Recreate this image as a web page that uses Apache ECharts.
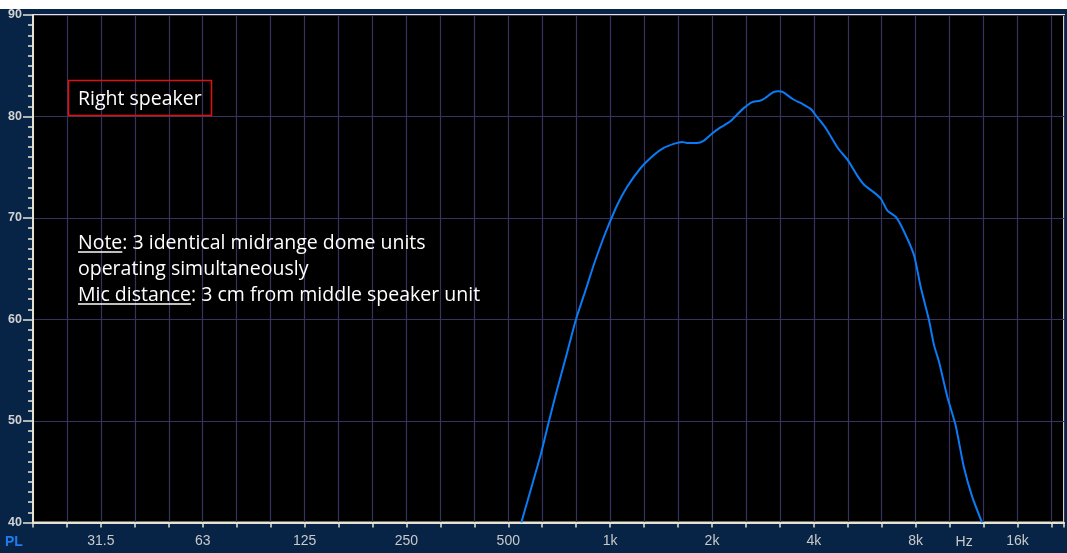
<!DOCTYPE html>
<html>
<head>
<meta charset="utf-8">
<script src="https://cdn.jsdelivr.net/npm/echarts@6/dist/echarts.min.js"></script>
<style>
  html, body { margin: 0; padding: 0; background: #ffffff; }
  #wrap { position: absolute; left: 0; top: 9px; width: 1067px; height: 544px; background: #072446; }
  #chart { position: absolute; left: 0; top: 0; width: 1067px; height: 553px; }
</style>
</head>
<body>
<div id="wrap"></div>
<div id="chart"></div>
<script>
// Frequency response, right speaker (3 midrange domes driven together)
const freqs = [555, 630, 669, 703, 752, 805, 860, 907, 975, 1008, 1067, 1142, 1249, 1368, 1463, 1566,
  1656, 1714, 1834, 1918, 2030, 2147, 2298, 2404, 2516, 2661, 2815, 2913, 3083, 3187, 3297,
  3528, 3777, 3995, 4130, 4226, 4420, 4784, 5120, 5480, 5730, 6131, 6414, 6714, 7101, 7511,
  8034, 8410, 8896, 9203, 9522, 10078, 10660, 11275, 11936, 12764];
const levels = [40.0, 46.4, 49.9, 52.7, 56.3, 60.0, 62.9, 65.3, 68.2, 69.4, 71.3, 73.1, 74.9, 76.2, 76.9, 77.3,
  77.5, 77.4, 77.4, 77.6, 78.3, 78.9, 79.5, 80.15, 80.8, 81.4, 81.55, 81.8, 82.4, 82.5, 82.4,
  81.7, 81.2, 80.7, 80.05, 79.65, 78.8, 76.9, 75.7, 74.1, 73.25, 72.5, 71.9, 70.7, 70.1, 68.65,
  66.35, 63.2, 59.95, 57.5, 55.85, 52.4, 49.6, 45.5, 42.55, 40.0];

// Labels for every third 1/3-octave line, starting at the 31.5 Hz line
const freqLabels = ['31.5', '63', '125', '250', '500', '1k', '2k', '4k', '8k', '16k'];
const unitLabel = 'Hz';
const unitFreq = 11300;

const titleText = 'Right speaker';
const noteLines = [
  { head: 'Note', rest: ': 3 identical midrange dome units' },
  { head: '', rest: 'operating simultaneously' },
  { head: 'Mic distance', rest: ': 3 cm from middle speaker unit' }
];

const F_MIN = 20, F_MAX = 22300;
const CREAM = '#e6e3d3';
const GRID = '#36345f';
const TEXT_FONT = '"Open Sans", sans-serif';
const TEXT_SIZE = 19.5;

const chart = echarts.init(document.getElementById('chart'), null, { renderer: 'canvas' });

const series = freqs.map((f, i) => [f, levels[i]]);

chart.setOption({
  backgroundColor: 'transparent',
  animation: false,
  grid: {
    left: 33, top: 15, right: -2, bottom: 30.5,
    show: true, backgroundColor: '#000000',
    borderColor: CREAM, borderWidth: 2
  },
  xAxis: {
    type: 'log', logBase: 2,
    min: F_MIN, max: F_MAX, interval: 1 / 3,
    axisLine: { show: true, onZero: false, lineStyle: { color: CREAM, width: 2 } },
    axisTick: { show: true, length: 5, lineStyle: { color: CREAM, width: 1.5 } },
    splitLine: { show: true, lineStyle: { color: GRID, width: 1.2 } },
    axisLabel: {
      color: '#c9c9c9', fontSize: 14, fontFamily: '"Liberation Sans", Arial, sans-serif',
      margin: 12, showMinLabel: true, showMaxLabel: true, hideOverlap: false,
      formatter: function (v) {
        const k = Math.round(3 * Math.log2(v / F_MIN));
        if (k < 2 || (k - 2) % 3 !== 0) return '';
        const idx = (k - 2) / 3;
        return freqLabels[idx] || '';
      }
    }
  },
  yAxis: {
    type: 'value', min: 40, max: 90, interval: 10,
    axisLine: { show: true, lineStyle: { color: CREAM, width: 2 } },
    axisTick: { show: true, length: 10, lineStyle: { color: CREAM, width: 1.5 } },
    minorTick: { show: true, splitNumber: 10, length: 5, lineStyle: { color: CREAM, width: 1.5 } },
    splitLine: { show: true, lineStyle: { color: GRID, width: 1.2 } },
    axisLabel: {
      color: '#d2d2d2', fontSize: 12.5, fontWeight: 'bold',
      fontFamily: '"Liberation Sans", Arial, sans-serif', margin: 11
    }
  },
  series: [{
    type: 'line', data: series, showSymbol: false, smooth: 0.2,
    clip: true,
    lineStyle: { color: '#0a7bf7', width: 2 }
  }]
});

// text measurement for underlines
const ctx = document.createElement('canvas').getContext('2d');
ctx.font = TEXT_SIZE + 'px ' + TEXT_FONT;

const textX = 78;
const baselines = [249, 275, 301];
const graphics = [];

graphics.push({
  type: 'rect', shape: { x: 68.5, y: 80.5, width: 143, height: 35 },
  style: { fill: 'none', stroke: '#e01010', lineWidth: 1.5 }, z: 100
});
graphics.push({
  type: 'text', x: textX, y: 105 - 6,
  style: { text: titleText, fill: '#ffffff', font: TEXT_SIZE + 'px ' + TEXT_FONT, verticalAlign: 'middle' },
  z: 100
});

noteLines.forEach((ln, i) => {
  const by = baselines[i];
  graphics.push({
    type: 'text', x: textX, y: by - 6,
    style: { text: ln.head + ln.rest, fill: '#ffffff', font: TEXT_SIZE + 'px ' + TEXT_FONT, verticalAlign: 'middle' },
    z: 100
  });
  if (ln.head) {
    const w = ctx.measureText(ln.head).width;
    graphics.push({
      type: 'line', shape: { x1: textX, y1: by + 3, x2: textX + w, y2: by + 3 },
      style: { stroke: '#ffffff', lineWidth: 1.5 }, z: 100
    });
  }
});

// unit label on the frequency axis and the level axis name
const hzX = chart.convertToPixel({ xAxisIndex: 0 }, unitFreq);
graphics.push({
  type: 'text', x: hzX, y: 542,
  style: { text: unitLabel, fill: '#c9c9c9', font: '14px "Liberation Sans", Arial, sans-serif', align: 'center', verticalAlign: 'middle' },
  z: 100
});
graphics.push({
  type: 'text', x: 5, y: 542,
  style: { text: 'PL', fill: '#1f7cf0', font: 'bold 14px "Liberation Sans", Arial, sans-serif', verticalAlign: 'middle' },
  z: 100
});

chart.setOption({ graphic: graphics });
</script>
</body>
</html>
